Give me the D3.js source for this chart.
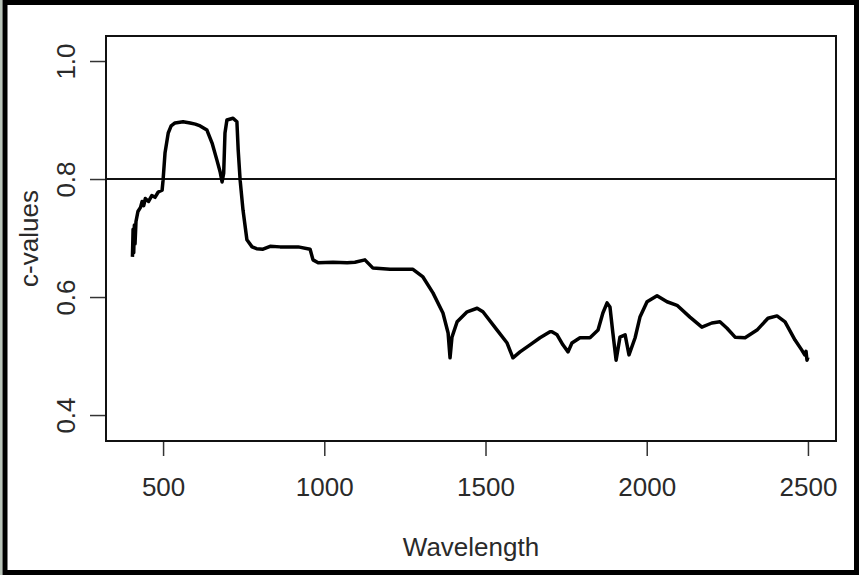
<!DOCTYPE html>
<html>
<head>
<meta charset="utf-8">
<script src="https://cdn.jsdelivr.net/npm/d3@7"></script>
<style>
  html, body { margin: 0; padding: 0; background: #b9c4b9; }
  svg { display: block; }
  text { font-family: "Liberation Sans", Arial, sans-serif; fill: #2a2a2a; }
</style>
</head>
<body>
<script>
// spectrum
const wavelength = [405, 407, 409, 411, 413, 416, 422, 430, 435, 440, 445, 455, 465, 475, 485, 497, 500, 506, 516, 525, 537,
  562, 584, 600, 615, 636, 652, 667, 677, 683, 688, 692, 698, 717, 729, 733, 739, 748, 760, 776, 790, 810,
  832, 863, 919, 956, 965, 981, 1027, 1071, 1095, 1126, 1151, 1204, 1266, 1275, 1306, 1337, 1368, 1384,
  1390, 1396, 1412, 1443, 1474, 1492, 1536, 1567, 1585, 1607, 1638, 1669, 1700, 1706, 1722, 1740, 1756,
  1768, 1793, 1824, 1849, 1864, 1877, 1886, 1895, 1905, 1917, 1933, 1945, 1964, 1979, 2001, 2032, 2063,
  2094, 2134, 2171, 2202, 2227, 2249, 2274, 2305, 2342, 2376, 2404, 2429, 2460, 2481, 2490, 2494, 2497, 2500];
const cvalues = [0.668, 0.715, 0.675, 0.722, 0.690, 0.728, 0.745, 0.752, 0.762, 0.755, 0.767, 0.762, 0.772, 0.769, 0.778, 0.781, 0.798, 0.844, 0.878, 0.890, 0.895,
  0.897, 0.895, 0.893, 0.890, 0.883, 0.861, 0.832, 0.812, 0.795, 0.810, 0.878, 0.900, 0.903, 0.897, 0.849, 0.798, 0.747, 0.697, 0.685, 0.682, 0.681,
  0.686, 0.685, 0.685, 0.681, 0.663, 0.658, 0.659, 0.658, 0.659, 0.663, 0.649, 0.647, 0.647, 0.647, 0.634, 0.607, 0.573, 0.539,
  0.497, 0.532, 0.558, 0.575, 0.581, 0.575, 0.544, 0.522, 0.497, 0.507, 0.519, 0.531, 0.541, 0.541, 0.536, 0.519, 0.507,
  0.522, 0.531, 0.531, 0.544, 0.573, 0.590, 0.583, 0.539, 0.493, 0.532, 0.536, 0.502, 0.531, 0.566, 0.592, 0.602, 0.592,
  0.586, 0.566, 0.549, 0.556, 0.558, 0.547, 0.532, 0.531, 0.544, 0.564, 0.568, 0.558, 0.527, 0.510, 0.502, 0.508, 0.493, 0.498];

const xTicks = [500, 1000, 1500, 2000, 2500];
const yTicks = [0.4, 0.6, 0.8, 1.0];
const refLine = 0.8;

const W = 859, H = 575;
const box = {left: 106, right: 836, top: 36, bottom: 441};

const svg = d3.select("body").append("svg").attr("width", W).attr("height", H);

svg.append("rect").attr("x", 2.5).attr("y", 0).attr("width", W - 2.5).attr("height", H)
  .attr("fill", "#fff");
svg.append("rect").attr("x", 5).attr("y", 2.5).attr("width", W - 7.5).attr("height", H - 5)
  .attr("fill", "none").attr("stroke", "#000").attr("stroke-width", 5);

const x = d3.scaleLinear().domain([323, 2587]).range([box.left, box.right]);
const y = d3.scaleLinear().domain([0.356, 1.0424]).range([box.bottom, box.top]);

// axes, R style: no domain line, ticks outside
const xAxis = svg.append("g").attr("transform", `translate(0,${box.bottom})`)
  .call(d3.axisBottom(x).tickValues(xTicks).tickSize(15).tickPadding(22).tickFormat(d3.format("d")));
xAxis.select(".domain").remove();
xAxis.selectAll("line").attr("stroke", "#333").attr("stroke-width", 1.5);
xAxis.selectAll("text").attr("font-size", 26).attr("fill", "#2a2a2a");

const yAxis = svg.append("g").attr("transform", `translate(${box.left},0)`)
  .call(d3.axisLeft(y).tickValues(yTicks).tickSize(16).tickFormat(d3.format(".1f")));
yAxis.select(".domain").remove();
yAxis.selectAll("line").attr("stroke", "#333").attr("stroke-width", 1.5);
yAxis.selectAll("text")
  .attr("font-size", 26).attr("fill", "#2a2a2a")
  .attr("x", null).attr("dy", null)
  .attr("text-anchor", "middle")
  .attr("transform", "translate(-31,0) rotate(-90)");

// horizontal reference line
svg.append("line")
  .attr("x1", box.left).attr("x2", box.right)
  .attr("y1", y(refLine)).attr("y2", y(refLine))
  .attr("stroke", "#111").attr("stroke-width", 2);

const line = d3.line().x(d => x(d[0])).y(d => y(d[1]));
svg.append("path")
  .datum(d3.zip(wavelength, cvalues))
  .attr("d", line)
  .attr("fill", "none").attr("stroke", "#000").attr("stroke-width", 3.5)
  .attr("stroke-linejoin", "round");

// plot box
svg.append("rect")
  .attr("x", box.left).attr("y", box.top)
  .attr("width", box.right - box.left).attr("height", box.bottom - box.top)
  .attr("fill", "none").attr("stroke", "#111").attr("stroke-width", 2);

svg.append("text").attr("x", (box.left + box.right) / 2).attr("y", 556)
  .attr("text-anchor", "middle").attr("font-size", 26).text("Wavelength");

svg.append("text")
  .attr("transform", `translate(38,${(box.top + box.bottom) / 2}) rotate(-90)`)
  .attr("text-anchor", "middle").attr("font-size", 26).text("c-values");
</script>
</body>
</html>
